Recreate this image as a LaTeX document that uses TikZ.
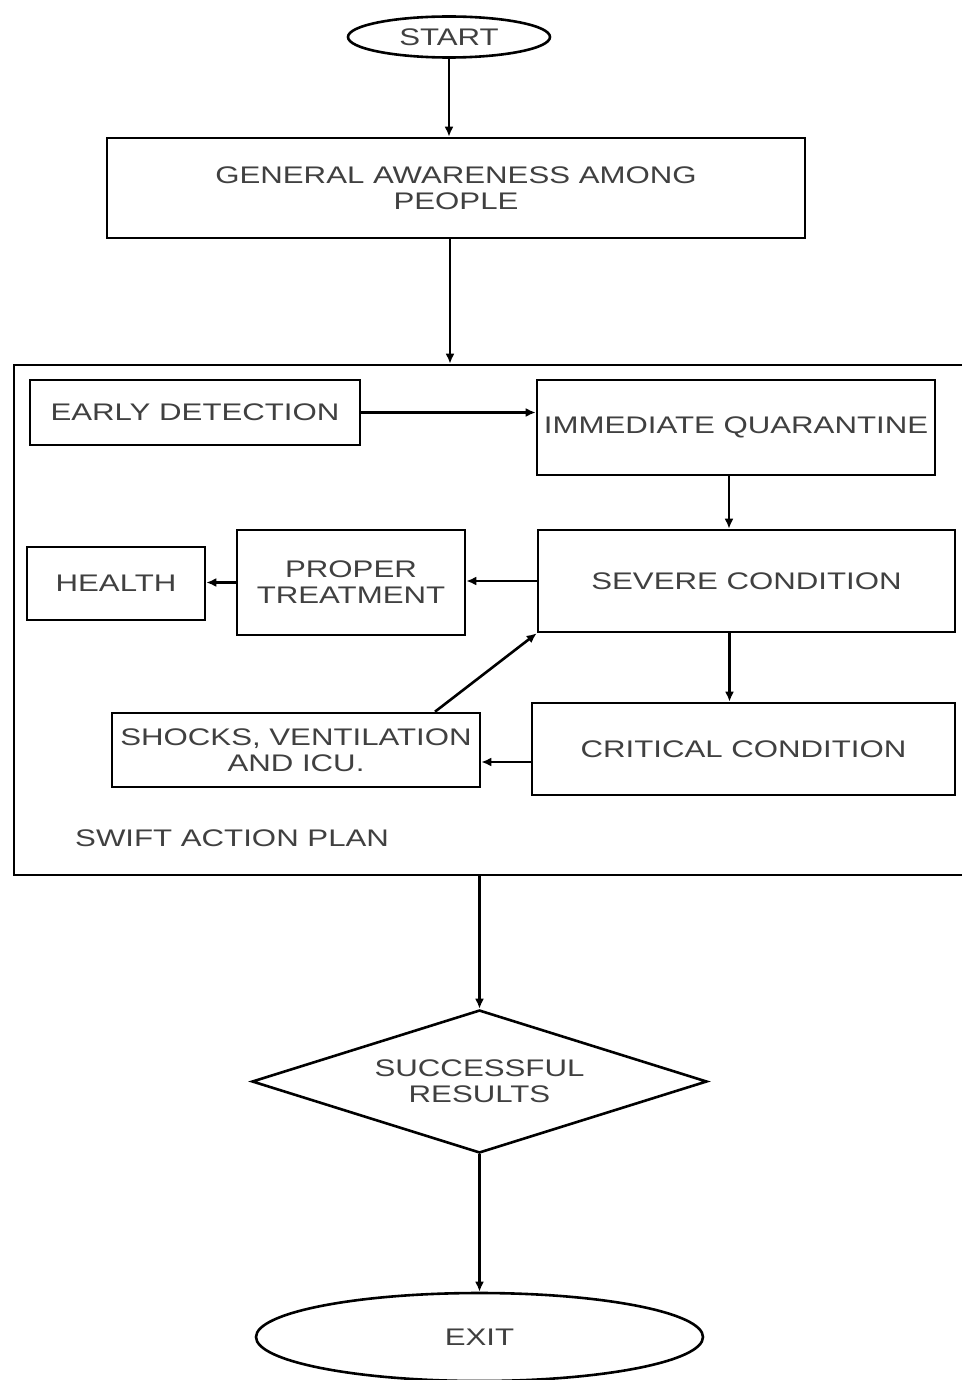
\documentclass[tikz,border=0pt]{standalone}
\usepackage{fontspec}
\setmainfont{Liberation Sans}[FakeStretch=1.3]
\usetikzlibrary{shapes.geometric,arrows.meta,positioning}

\tikzset{
  block/.style={draw, line width=2.6pt, rectangle, inner sep=0pt, align=center,
    text=black!75, font=\fontsize{24}{26}\selectfont},
  term/.style={draw, line width=2.6pt, ellipse, inner sep=0pt,
    text=black!75, font=\fontsize{24}{26}\selectfont},
  decide/.style={draw, line width=2.6pt, diamond, aspect=3.2, inner sep=0pt, align=center,
    text=black!75, font=\fontsize{24}{26}\selectfont},
  flow/.style={line width=2.6pt, -{Latex[length=10pt,width=9pt]}},
}

\begin{document}
\begin{tikzpicture}[x=1pt,y=1pt]
\useasboundingbox (0,0) rectangle (961,-1380);
% top
\node[term, minimum width=202pt, minimum height=41pt] (start) at (449,-37) {START};
\node[block, minimum width=698pt, minimum height=100pt] (aware) at (456,-188)
  {GENERAL AWARENESS AMONG\\PEOPLE};
% swift action plan frame
\node[block, minimum width=950pt, minimum height=510pt] (plan) at (489,-620) {};
\node[text=black!75, font=\fontsize{24}{26}\selectfont, anchor=west, inner sep=0pt]
  (planlabel) at (75,-838) {SWIFT ACTION PLAN};
\node[block, minimum width=330pt, minimum height=65pt] (detect) at (195,-412.5) {EARLY DETECTION};
\node[block, minimum width=398pt, minimum height=95pt] (quarantine) at (736,-427.5) {IMMEDIATE QUARANTINE};
\node[block, minimum width=417pt, minimum height=102pt] (severe) at (746.5,-581) {SEVERE CONDITION};
\node[block, minimum width=228pt, minimum height=105pt] (treat) at (351,-582.5) {PROPER\\TREATMENT};
\node[block, minimum width=178pt, minimum height=73pt] (health) at (116,-583.5) {HEALTH};
\node[block, minimum width=368pt, minimum height=74pt] (shocks) at (296,-750)
  {SHOCKS, VENTILATION\\AND ICU.};
\node[block, minimum width=423pt, minimum height=92pt] (critical) at (743.5,-749) {CRITICAL CONDITION};
% bottom
\node[decide, minimum width=455pt, minimum height=143pt] (result) at (479.5,-1081.5)
  {SUCCESSFUL\\RESULTS};
\node[term, minimum width=447pt, minimum height=88pt] (exit) at (479.5,-1337) {EXIT};

\draw[flow] (start.south) -- (start.south |- aware.north);
\draw[flow] ([xshift=-6pt]aware.south) -- ([xshift=-6pt]aware.south |- plan.north);
\draw[flow] (detect.east) -- (detect.east -| quarantine.west);
\draw[flow] ([xshift=-7pt]quarantine.south) -- ([xshift=-7pt]quarantine.south |- severe.north);
\draw[flow] (severe.west) -- (severe.west -| treat.east);
\draw[flow] (treat.west) -- (treat.west -| health.east);
\draw[flow] ([xshift=-17pt]severe.south) -- ([xshift=-17pt]severe.south |- critical.north);
\draw[flow] ([yshift=-13pt]critical.west) -- ([yshift=-13pt]critical.west -| shocks.east);
\draw[flow] ([xshift=139pt]shocks.north) -- (severe.south west);
\draw[flow] (plan.south -| result.north) -- (result.north);
\draw[flow] (result.south) -- (exit.north);
\end{tikzpicture}
\end{document}
